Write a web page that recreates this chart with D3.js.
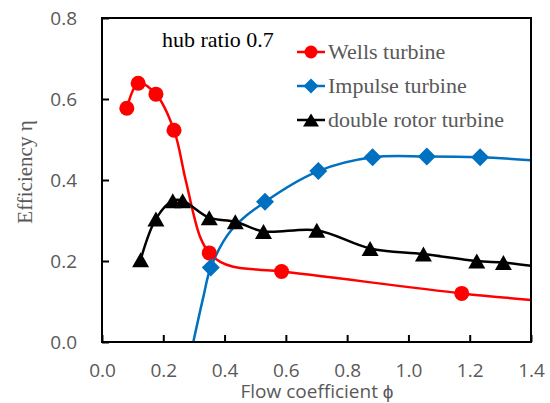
<!DOCTYPE html>
<html>
<head>
<meta charset="utf-8">
<script src="https://cdn.jsdelivr.net/npm/d3@7"></script>
<style>
    body { margin: 0; background: #fff; }
    svg { display: block; }
    .tick-label { font-family: "Open Sans", sans-serif; font-size: 19px; fill: #595959; }
    .serif { font-family: "Liberation Serif", "Times New Roman", serif; }
</style>
</head>
<body>
<svg id="chart" width="550" height="403"></svg>
<script>
(function () {
    "use strict";

    // ---- data ----
    // Wells turbine: measured points + the drawn curve
    const wellsPhi = [0.081, 0.118, 0.176, 0.235, 0.350, 0.586, 1.174];
    const wellsEff = [0.577, 0.639, 0.612, 0.523, 0.220, 0.174, 0.120];
    const wellsCurvePhi = [0.081, 0.118, 0.176, 0.235, 0.273, 0.320, 0.350, 0.386, 0.428, 0.505, 0.586, 1.174, 1.400];
    const wellsCurveEff = [0.577, 0.639, 0.612, 0.523, 0.400, 0.260, 0.220, 0.198, 0.186, 0.179, 0.174, 0.120, 0.104];

    // Impulse turbine
    const impulsePhi = [0.355, 0.532, 0.706, 0.883, 1.060, 1.234];
    const impulseEff = [0.184, 0.346, 0.422, 0.456, 0.458, 0.456];
    const impulseCurvePhi = [0.298, 0.331, 0.355, 0.423, 0.532, 0.706, 0.883, 1.060, 1.234, 1.400];
    const impulseCurveEff = [0.000, 0.112, 0.184, 0.277, 0.346, 0.422, 0.456, 0.458, 0.456, 0.449];

    // double rotor turbine
    const doublePhi = [0.126, 0.176, 0.231, 0.263, 0.350, 0.435, 0.527, 0.701, 0.875, 1.049, 1.223, 1.310];
    const doubleEff = [0.203, 0.304, 0.349, 0.349, 0.307, 0.297, 0.273, 0.276, 0.231, 0.217, 0.200, 0.196];
    const doubleCurvePhi = doublePhi.concat([1.400]);
    const doubleCurveEff = doubleEff.concat([0.188]);

    const xTicks = [0, 0.2, 0.4, 0.6, 0.8, 1.0, 1.2, 1.4];
    const yTicks = [0, 0.2, 0.4, 0.6, 0.8];

    const seriesNames = ["Wells turbine", "Impulse turbine", "double rotor turbine"];
    const seriesColors = ["#FF0000", "#0070C0", "#000000"];

    // ---- layout ----
    const svg = d3.select("#chart");
    const left = 102, right = 531, top = 18, bottom = 342;

    const x = d3.scaleLinear().domain([0, 1.4]).range([left, right]);
    const y = d3.scaleLinear().domain([0, 0.8]).range([bottom, top]);

    // bbox-centred triangle like the spreadsheet marker
    function triangleType(w, h) {
        return {
            draw(ctx) {
                ctx.moveTo(0, -h / 2);
                ctx.lineTo(w / 2, h / 2);
                ctx.lineTo(-w / 2, h / 2);
                ctx.closePath();
            }
        };
    }
    function diamondType(r) {
        return {
            draw(ctx) {
                ctx.moveTo(0, -r);
                ctx.lineTo(r, 0);
                ctx.lineTo(0, r);
                ctx.lineTo(-r, 0);
                ctx.closePath();
            }
        };
    }

    const markerBig = [
        d3.symbol().type(d3.symbolCircle).size(Math.PI * 7.5 * 7.5),
        d3.symbol().type(diamondType(9)),
        d3.symbol().type(triangleType(17, 15))
    ];
    const markerSmall = [
        d3.symbol().type(d3.symbolCircle).size(Math.PI * 6.5 * 6.5),
        d3.symbol().type(diamondType(7.5)),
        d3.symbol().type(triangleType(16, 13))
    ];

    const curves = [
        d3.zip(wellsCurvePhi, wellsCurveEff),
        d3.zip(impulseCurvePhi, impulseCurveEff),
        d3.zip(doubleCurvePhi, doubleCurveEff)
    ];
    const points = [
        d3.zip(wellsPhi, wellsEff),
        d3.zip(impulsePhi, impulseEff),
        d3.zip(doublePhi, doubleEff)
    ];

    const line = d3.line()
        .x((d) => x(d[0]))
        .y((d) => y(d[1]))
        .curve(d3.curveCatmullRom.alpha(0.5));

    // Axes (ticks point inward)
    const xAxis = svg.append("g")
        .attr("transform", `translate(0,${bottom})`)
        .call(d3.axisBottom(x).tickValues(xTicks).tickFormat(d3.format(".1f"))
            .tickSizeInner(-7).tickSizeOuter(0).tickPadding(22));
    const yAxis = svg.append("g")
        .attr("transform", `translate(${left},0)`)
        .call(d3.axisLeft(y).tickValues(yTicks).tickFormat(d3.format(".1f"))
            .tickSizeInner(-7).tickSizeOuter(0).tickPadding(25));

    [xAxis, yAxis].forEach(function (g) {
        g.select(".domain").remove();
        g.selectAll(".tick line").attr("stroke", "#000").attr("stroke-width", 2);
        g.selectAll(".tick text").attr("class", "tick-label").attr("fill", null);
        g.attr("font-size", null).attr("font-family", null);
    });

    // Series curves
    curves.forEach(function (c, i) {
        svg.append("path")
            .attr("d", line(c))
            .attr("fill", "none")
            .attr("stroke", seriesColors[i])
            .attr("stroke-width", 2.5);
    });

    // Markers
    points.forEach(function (p, i) {
        svg.append("g").selectAll("path")
            .data(p)
            .enter()
            .append("path")
            .attr("transform", (d) => `translate(${x(d[0])},${y(d[1])})`)
            .attr("d", markerBig[i]())
            .attr("fill", seriesColors[i]);
    });

    // Plot frame
    svg.append("rect")
        .attr("x", left).attr("y", top)
        .attr("width", right - left).attr("height", bottom - top)
        .attr("fill", "none")
        .attr("stroke", "#000")
        .attr("stroke-width", 2);

    // Axis titles
    svg.append("text")
        .attr("class", "tick-label")
        .attr("x", 317).attr("y", 398)
        .attr("text-anchor", "middle")
        .text("Flow coefficient \u03D5");

    svg.append("text")
        .attr("class", "serif")
        .attr("transform", "translate(32,172) rotate(-90)")
        .attr("text-anchor", "middle")
        .attr("font-size", 21)
        .attr("fill", "#595959")
        .text("Efficiency \u03B7");

    // Annotation
    svg.append("text")
        .attr("class", "serif")
        .attr("x", 162).attr("y", 47)
        .attr("font-size", 22)
        .attr("fill", "#000")
        .text("hub ratio 0.7");

    // Legend
    const legendY = [52, 86, 120];
    seriesNames.forEach(function (name, i) {
        const g = svg.append("g").attr("transform", `translate(0,${legendY[i]})`);
        g.append("line")
            .attr("x1", 297).attr("x2", 325)
            .attr("stroke", seriesColors[i])
            .attr("stroke-width", 2.5);
        g.append("path")
            .attr("transform", "translate(311,0)")
            .attr("d", markerSmall[i]())
            .attr("fill", seriesColors[i]);
        g.append("text")
            .attr("class", "serif")
            .attr("x", 328).attr("y", 7)
            .attr("font-size", 22)
            .attr("fill", "#595959")
            .text(name);
    });
})();
</script>
</body>
</html>
